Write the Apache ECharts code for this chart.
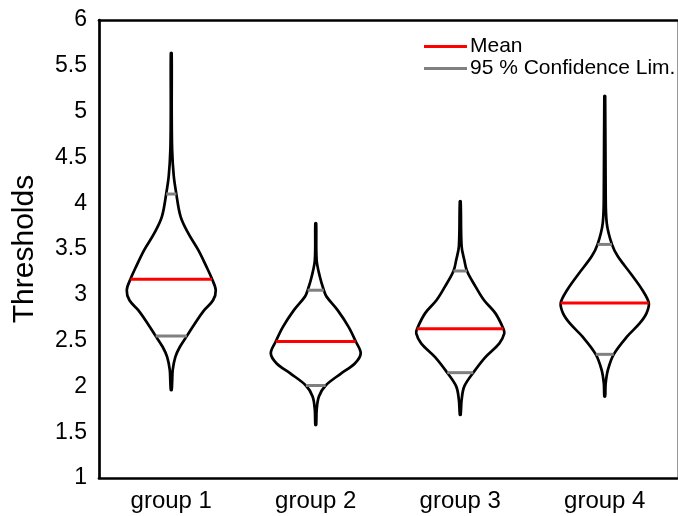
<!DOCTYPE html>
<html>
<head>
<meta charset="utf-8">
<script src="https://cdn.jsdelivr.net/npm/echarts@6/dist/echarts.min.js"></script>
<style>
html,body{margin:0;padding:0;background:#fff;}
#chart{width:678px;height:516px;}
</style>
</head>
<body>
<div id="chart"></div>
<script>
// ---- data ----
const categories = ['group 1', 'group 2', 'group 3', 'group 4'];

// violin profiles: threshold levels (bottom -> top) and relative density (1 = widest)
const g1Levels  = [1.96, 2.05, 2.18, 2.32, 2.43, 2.56, 2.69, 2.83, 2.94, 3.05, 3.18, 3.31, 3.49, 3.67, 3.85, 4.11, 4.30, 4.58, 5.00, 5.64];
const g1Density = [0, 0.02, 0.033, 0.09, 0.19, 0.36, 0.53, 0.73, 0.93, 0.99, 0.90, 0.78, 0.60, 0.38, 0.21, 0.11, 0.055, 0.02, 0.01, 0];
const g2Levels  = [1.58, 1.74, 1.89, 2.01, 2.14, 2.25, 2.36, 2.49, 2.65, 2.83, 2.98, 3.05, 3.20, 3.38, 3.78];
const g2Density = [0, 0.02, 0.07, 0.22, 0.56, 0.87, 1.0, 0.89, 0.73, 0.49, 0.24, 0.18, 0.09, 0.02, 0];
const g3Levels  = [1.69, 1.85, 2.00, 2.15, 2.32, 2.47, 2.58, 2.63, 2.80, 2.94, 3.09, 3.26, 3.38, 3.53, 4.02];
const g3Density = [0, 0.03, 0.09, 0.29, 0.56, 0.87, 0.98, 0.96, 0.78, 0.53, 0.34, 0.15, 0.09, 0.03, 0];
const g4Levels  = [1.89, 2.03, 2.18, 2.35, 2.54, 2.69, 2.80, 2.91, 3.05, 3.23, 3.42, 3.55, 3.78, 4.14, 5.17];
const g4Density = [0, 0.02, 0.07, 0.20, 0.49, 0.78, 0.93, 0.98, 0.84, 0.58, 0.29, 0.16, 0.045, 0.02, 0];

const means   = [3.17, 2.49, 2.63, 2.91];
const ciLower = [2.55, 2.01, 2.15, 2.35];
const ciUpper = [4.10, 3.05, 3.26, 3.55];

// ---- rendering ----
const levels = [g1Levels, g2Levels, g3Levels, g4Levels];
const densities = [g1Density, g2Density, g3Density, g4Density];
const WIDTH_SCALE = 0.311; // half-width of density 1, as share of the category band

function densityAt(i, y) {
  const L = levels[i], D = densities[i];
  if (y <= L[0] || y >= L[L.length - 1]) return 0;
  for (let k = 0; k < L.length - 1; k++) {
    if (y >= L[k] && y <= L[k + 1]) {
      const t = (y - L[k]) / (L[k + 1] - L[k]);
      return D[k] + t * (D[k + 1] - D[k]);
    }
  }
  return 0;
}

const FONT = '"Liberation Sans", Arial, Helvetica, sans-serif';
const chart = echarts.init(document.getElementById('chart'), null, {renderer: 'canvas'});

function violinItem(params, api) {
  const i = api.value(0);
  const band = api.size([1, 0])[0];
  const L = levels[i], D = densities[i];
  const right = [], left = [];
  for (let k = 0; k < L.length; k++) {
    const c = api.coord([i, L[k]]);
    const hw = Math.max(D[k] * WIDTH_SCALE * band, 0.4);
    right.push([c[0] + hw, c[1]]);
    left.push([c[0] - hw, c[1]]);
  }
  const pts = right.concat(left.reverse());
  return {
    type: 'polygon',
    shape: {points: pts, smooth: 0.35},
    style: {fill: 'none', stroke: '#000', lineWidth: 2.7, lineJoin: 'round'}
  };
}

function hLineItem(color) {
  return function (params, api) {
    const i = api.value(0), y = api.value(1);
    const band = api.size([1, 0])[0];
    const c = api.coord([i, y]);
    const hw = densityAt(i, y) * WIDTH_SCALE * band;
    return {
      type: 'line',
      shape: {x1: c[0] - hw, y1: c[1], x2: c[0] + hw, y2: c[1]},
      style: {stroke: color, lineWidth: 3}
    };
  };
}

const ciData = [];
for (let i = 0; i < categories.length; i++) {
  ciData.push([i, ciLower[i]]);
  ciData.push([i, ciUpper[i]]);
}

chart.setOption({
  animation: false,
  grid: {left: 99, top: 20, right: 1, bottom: 38, containLabel: false, outerBoundsMode: 'none'},
  legend: {
    left: 419, top: 31, orient: 'vertical', itemGap: 1,
    itemWidth: 43, itemHeight: 3, selectedMode: false,
    textStyle: {fontFamily: FONT, fontSize: 21, color: '#000', lineHeight: 20, padding: [0, 0, 0, -2]},
    data: [
      {name: 'Mean', icon: 'rect', itemStyle: {color: '#ff0000'}},
      {name: '95 % Confidence Lim.', icon: 'rect', itemStyle: {color: '#808080'}}
    ]
  },
  xAxis: [
    {
      type: 'category', data: categories, position: 'bottom',
      axisLine: {show: true, lineStyle: {color: '#000', width: 2.7}},
      axisTick: {show: false},
      axisLabel: {fontFamily: FONT, fontSize: 24, color: '#000', margin: 11},
      splitLine: {show: false}
    },
    {
      type: 'category', data: categories, position: 'top',
      axisLine: {show: true, lineStyle: {color: '#000', width: 2.7}},
      axisTick: {show: false}, axisLabel: {show: false}, splitLine: {show: false}
    }
  ],
  yAxis: [
    {
      type: 'value', min: 1, max: 6, interval: 0.5, position: 'left',
      name: 'Thresholds', nameLocation: 'middle', nameGap: 59,
      nameTextStyle: {fontFamily: FONT, fontSize: 30, color: '#000'},
      axisLine: {show: true, lineStyle: {color: '#000', width: 2.7}},
      axisTick: {show: false},
      axisLabel: {fontFamily: FONT, fontSize: 23, color: '#000', margin: 12},
      splitLine: {show: false}
    },
    {
      type: 'value', min: 1, max: 6, interval: 0.5, position: 'right',
      axisLine: {show: true, lineStyle: {color: '#999', width: 1}},
      axisTick: {show: false}, axisLabel: {show: false}, splitLine: {show: false}
    }
  ],
  series: [
    {
      type: 'custom', name: 'violin', xAxisIndex: 0, yAxisIndex: 0,
      renderItem: violinItem, clip: false,
      encode: {x: 0, y: 1},
      data: categories.map((c, i) => [i, means[i]]),
      silent: true
    },
    {
      type: 'custom', name: '95 % Confidence Lim.', xAxisIndex: 0, yAxisIndex: 0,
      renderItem: hLineItem('#808080'), clip: false,
      encode: {x: 0, y: 1},
      itemStyle: {color: '#808080'},
      data: ciData, silent: true
    },
    {
      type: 'custom', name: 'Mean', xAxisIndex: 0, yAxisIndex: 0,
      renderItem: hLineItem('#ff0000'), clip: false,
      encode: {x: 0, y: 1},
      itemStyle: {color: '#ff0000'},
      data: categories.map((c, i) => [i, means[i]]), silent: true
    }
  ]
});
</script>
</body>
</html>
